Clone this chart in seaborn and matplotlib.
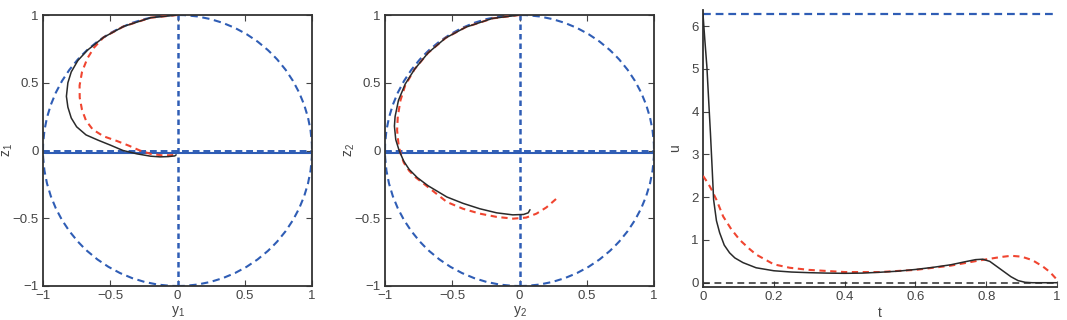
import numpy as np
import pandas as pd
import matplotlib
matplotlib.use("Agg")
import matplotlib.pyplot as plt
from matplotlib.patches import Circle
import seaborn as sns

sns.set_style("ticks")
plt.rcParams['font.family'] = ['Liberation Sans', 'DejaVu Sans']
plt.rcParams['mathtext.default'] = 'regular'

# ---------------- data ----------------
# panel 1: (y1, z1)
p1_black_y = [0.0, -0.2, -0.4, -0.55, -0.67, -0.74, -0.79, -0.815, -0.826, -0.815, -0.79, -0.75,
              -0.68, -0.59, -0.5, -0.405, -0.3, -0.2, -0.13, -0.07, -0.02, -0.01]
p1_black_z = [1.0, 0.98, 0.916, 0.835, 0.74, 0.665, 0.58, 0.5, 0.4, 0.32, 0.24, 0.175,
              0.115, 0.076, 0.04, 0.0, -0.025, -0.042, -0.047, -0.045, -0.04, -0.032]
p1_red_y = [0.0, -0.2, -0.4, -0.55, -0.62, -0.67, -0.71, -0.728, -0.727, -0.71, -0.68, -0.63,
            -0.55, -0.45, -0.36, -0.28, -0.2, -0.12, -0.05, 0.0]
p1_red_z = [1.0, 0.98, 0.916, 0.835, 0.76, 0.68, 0.58, 0.48, 0.39, 0.3, 0.22, 0.155,
            0.105, 0.07, 0.035, 0.0, -0.025, -0.035, -0.035, -0.03]

# panel 2: (y2, z2)
p2_black_y = [0.0, -0.2, -0.4, -0.55, -0.68, -0.78, -0.85, -0.9, -0.925, -0.93, -0.92, -0.895,
              -0.86, -0.82, -0.76, -0.68, -0.54, -0.42, -0.295, -0.17, -0.05, 0.03, 0.065, 0.078]
p2_black_z = [1.0, 0.975, 0.91, 0.83, 0.72, 0.6, 0.49, 0.37, 0.25, 0.18, 0.08, 0.0,
              -0.08, -0.14, -0.2, -0.26, -0.343, -0.39, -0.43, -0.46, -0.475, -0.472, -0.46, -0.437]
p2_red_y = [0.0, -0.2, -0.4, -0.55, -0.68, -0.78, -0.85, -0.885, -0.905, -0.91, -0.9, -0.885,
            -0.86, -0.82, -0.77, -0.68, -0.54, -0.42, -0.295, -0.17, -0.047, 0.05, 0.126, 0.2, 0.275]
p2_red_z = [1.0, 0.975, 0.91, 0.83, 0.72, 0.6, 0.48, 0.37, 0.25, 0.15, 0.05, -0.02,
            -0.09, -0.15, -0.2, -0.27, -0.38, -0.43, -0.466, -0.49, -0.503, -0.495, -0.466, -0.42, -0.355]

# panel 3: u(t)
t_black = [0, 0.005, 0.011, 0.016, 0.021, 0.026, 0.03, 0.038, 0.047, 0.06, 0.075, 0.09, 0.113,
           0.15, 0.2, 0.25, 0.3, 0.35, 0.4, 0.45, 0.5, 0.55, 0.6, 0.65, 0.7, 0.74, 0.77, 0.79,
           0.81, 0.83, 0.85, 0.87, 0.89, 0.91, 0.93, 0.96, 1.0]
u_black = [6.28, 5.7, 5.05, 4.27, 3.5, 2.65, 1.94, 1.45, 1.17, 0.88, 0.7, 0.58, 0.47,
           0.35, 0.28, 0.25, 0.235, 0.225, 0.22, 0.225, 0.245, 0.27, 0.31, 0.36, 0.42, 0.49, 0.54, 0.55,
           0.5, 0.38, 0.26, 0.14, 0.05, 0.01, 0.0, 0.0, 0.0]
t_red = [0, 0.014, 0.024, 0.038, 0.057, 0.08, 0.104, 0.13, 0.15, 0.2, 0.245, 0.3, 0.4, 0.5,
         0.6, 0.7, 0.78, 0.84, 0.87, 0.9, 0.93, 0.96, 0.98, 1.0]
u_red = [2.5, 2.33, 2.18, 1.94, 1.55, 1.25, 1.0, 0.8, 0.66, 0.43, 0.35, 0.3, 0.25, 0.25,
         0.3, 0.4, 0.52, 0.6, 0.63, 0.61, 0.53, 0.38, 0.25, 0.07]

u_max = 2 * np.pi
u_min = 0.0
z_bound = -0.02
circle_radius = 1.0

ticks_yz = [-1, -0.5, 0, 0.5, 1]
ticklabels_yz = ['\u22121', '\u22120.5', '0', '0.5', '1']
ticks_t = [0, 0.2, 0.4, 0.6, 0.8, 1]
ticklabels_t = ['0', '0.2', '0.4', '0.6', '0.8', '1']
ticks_u = [0, 1, 2, 3, 4, 5, 6]

# ---------------- style ----------------
BLUE = '#2f5db5'
RED = '#f04530'
BLACK = '#2a2a2a'
TXT = '#444444'
TICK_FS = 9.5
LAB_FS = 10

fig = plt.figure(figsize=(10.67, 3.2), dpi=100)
ax1 = fig.add_axes([43/1067, 1-286/320, 269/1067, 271/320])
ax2 = fig.add_axes([385/1067, 1-286/320, 269/1067, 271/320])
ax3 = fig.add_axes([703/1067, 1-287/320, 354/1067, 277/320])


def phase_panel(ax, by, bz, ry, rz, xl, yl):
    ax.add_patch(Circle((0, 0), circle_radius, fill=False, ec=BLUE, lw=1.5,
                        ls=(0, (3.5, 2.2)), zorder=2))
    ax.axvline(0, color=BLUE, lw=1.8, ls=(0, (2.2, 1.6)), zorder=2)
    ax.axhline(0, color=BLUE, lw=1.4, ls=(0, (3.5, 2.0)), zorder=2)
    ax.axhline(z_bound, color=BLUE, lw=1.5, zorder=2)
    d1 = pd.DataFrame({'y': by, 'z': bz})
    d2 = pd.DataFrame({'y': ry, 'z': rz})
    sns.lineplot(data=d2, x='y', y='z', sort=False, estimator=None, ax=ax,
                 color=RED, lw=1.5, ls=(0, (3, 2.2)), zorder=3)
    sns.lineplot(data=d1, x='y', y='z', sort=False, estimator=None, ax=ax,
                 color=BLACK, lw=1.1, zorder=4)
    ax.set_xlim(-1, 1)
    ax.set_ylim(-1, 1)
    ax.set_xticks(ticks_yz)
    ax.set_xticklabels(ticklabels_yz)
    ax.set_yticks(ticks_yz)
    ax.set_yticklabels(ticklabels_yz)
    ax.tick_params(direction='in', length=4, width=0.8, top=True, right=True,
                   labelsize=TICK_FS, colors=TXT, pad=3)
    ax.set_xlabel(xl, fontsize=LAB_FS, color=TXT)
    ax.set_ylabel(yl, fontsize=LAB_FS, color=TXT)
    ax.xaxis.set_label_coords(0.5, -0.068)
    ax.yaxis.set_label_coords(-0.105, 0.5)
    for s in ax.spines.values():
        s.set_visible(True)
        s.set_linewidth(1.3)
        s.set_color('#333333')


phase_panel(ax1, p1_black_y, p1_black_z, p1_red_y, p1_red_z, '$y_1$', '$z_1$')
phase_panel(ax2, p2_black_y, p2_black_z, p2_red_y, p2_red_z, '$y_2$', '$z_2$')

# panel 3
ax3.axhline(u_max, color=BLUE, lw=1.6, ls=(0, (3.5, 2.2)), zorder=2)
ax3.axhline(u_min, color=BLACK, lw=1.1, ls=(0, (4.5, 3)), zorder=2)
sns.lineplot(x=t_red, y=u_red, sort=False, estimator=None, ax=ax3,
             color=RED, lw=1.5, ls=(0, (3, 2.2)), zorder=3)
sns.lineplot(x=t_black, y=u_black, sort=False, estimator=None, ax=ax3,
             color=BLACK, lw=1.1, zorder=4)
ax3.set_xlim(0, 1)
ax3.set_ylim(-0.1, 6.38)
ax3.set_xticks(ticks_t)
ax3.set_xticklabels(ticklabels_t)
ax3.set_yticks(ticks_u)
ax3.tick_params(direction='in', length=4, width=0.8, labelsize=TICK_FS, colors=TXT, pad=3)
ax3.set_xlabel('t', fontsize=LAB_FS, color=TXT)
ax3.set_ylabel('u', fontsize=LAB_FS, color=TXT)
ax3.xaxis.set_label_coords(0.5, -0.07)
ax3.yaxis.set_label_coords(-0.058, 0.5)
ax3.spines['top'].set_visible(False)
ax3.spines['right'].set_visible(False)
for s in ['left', 'bottom']:
    ax3.spines[s].set_linewidth(1.3)
    ax3.spines[s].set_color('#333333')

fig.savefig('out.png', dpi=100)
